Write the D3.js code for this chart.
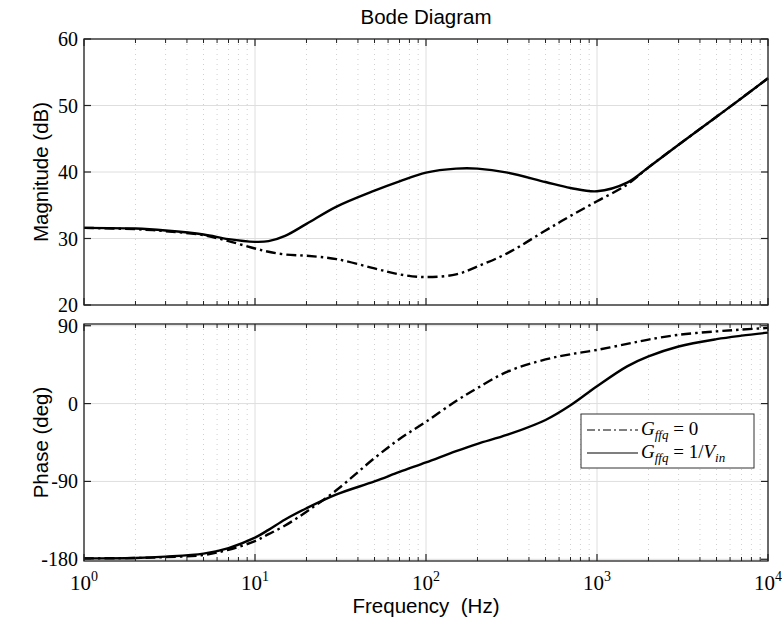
<!DOCTYPE html>
<html>
<head>
<meta charset="utf-8">
<script src="https://cdnjs.cloudflare.com/ajax/libs/d3/7.8.5/d3.min.js"></script>
<style>
  body { margin: 0; background: #fff; }
  svg { display: block; }
</style>
</head>
<body>
<div id="chart"></div>
<script>
// frequency samples (Hz)
var freq = [1, 2, 3, 5, 7, 10, 12, 15, 20, 30, 50, 70, 100, 150, 200, 300, 500, 700, 1000, 1500, 2000, 3000, 5000, 7000, 10000];
// magnitude (dB)
var magG0   = [31.6, 31.4, 31.1, 30.5, 29.6, 28.5, 28.0, 27.6, 27.4, 26.9, 25.5, 24.6, 24.2, 24.6, 25.8, 27.8, 31.2, 33.4, 35.6, 38.1, 40.7, 44.1, 48.3, 51.1, 54.1];
var magGVin = [31.6, 31.5, 31.2, 30.6, 29.9, 29.5, 29.6, 30.4, 32.2, 34.8, 37.2, 38.6, 39.9, 40.5, 40.5, 39.9, 38.5, 37.6, 37.1, 38.4, 40.7, 44.1, 48.3, 51.1, 54.1];
// phase (deg)
var phG0   = [-179, -178.5, -177.5, -175, -169, -159, -151, -141, -125, -100, -63, -41, -21, 3, 18, 37, 51, 57, 62, 69, 74, 79.5, 83.5, 85.5, 87.5];
var phGVin = [-179, -178.5, -177, -173.5, -167, -155, -146, -134, -121, -105, -90, -79, -68, -55, -46.5, -36, -19, -2, 20, 43, 54.5, 66, 74.5, 78.5, 82];

var magTicks = [20, 30, 40, 50, 60];
var phTicks = [-180, -90, 0, 90];
var decades = [1, 10, 100, 1000, 10000];

var W = 782, H = 620;
var left = 84, right = 768;
var magTop = 39, magBot = 305;
var phTop = 324, phBot = 561;

var sans = "'Liberation Sans', Arial, sans-serif";
var serif = "'Liberation Serif', serif";

var svg = d3.select("#chart").append("svg")
  .attr("width", W).attr("height", H);

var x = d3.scaleLog().domain([1, 10000]).range([left, right]);
var yMag = d3.scaleLinear().domain([20, 60]).range([magBot, magTop]);
var yPh = d3.scaleLinear().domain([-182, 92]).range([phBot, phTop]);

// minor frequencies 2..9 in each decade
var minorF = [];
decades.slice(0, 4).forEach(function(d) {
  for (var k = 2; k <= 9; k++) minorF.push(d * k);
});

function panel(y, ticks, top, bot) {
  var g = svg.append("g");
  // minor vertical grid (dotted)
  g.selectAll(".mg").data(minorF).enter().append("line")
    .attr("x1", d => x(d)).attr("x2", d => x(d))
    .attr("y1", top).attr("y2", bot)
    .attr("stroke", "#d0d0d0").attr("stroke-width", 1)
    .attr("stroke-dasharray", "1,4");
  // major vertical grid
  g.selectAll(".Mg").data(decades).enter().append("line")
    .attr("x1", d => x(d)).attr("x2", d => x(d))
    .attr("y1", top).attr("y2", bot)
    .attr("stroke", "#dedede").attr("stroke-width", 1);
  // horizontal grid
  g.selectAll(".hg").data(ticks).enter().append("line")
    .attr("x1", left).attr("x2", right)
    .attr("y1", d => y(d)).attr("y2", d => y(d))
    .attr("stroke", "#dedede").attr("stroke-width", 1);
  return g;
}

function frame(g, y, ticks, top, bot) {
  // box
  g.append("rect")
    .attr("x", left).attr("y", top)
    .attr("width", right - left).attr("height", bot - top)
    .attr("fill", "none").attr("stroke", "#222").attr("stroke-width", 1.3);
  // x ticks inward, top and bottom
  [[bot, -1], [top, 1]].forEach(function(p) {
    g.selectAll(null).data(decades).enter().append("line")
      .attr("x1", d => x(d)).attr("x2", d => x(d))
      .attr("y1", p[0]).attr("y2", p[0] + p[1] * 7)
      .attr("stroke", "#222").attr("stroke-width", 1.2);
    g.selectAll(null).data(minorF).enter().append("line")
      .attr("x1", d => x(d)).attr("x2", d => x(d))
      .attr("y1", p[0]).attr("y2", p[0] + p[1] * 4)
      .attr("stroke", "#222").attr("stroke-width", 1);
  });
  // y ticks inward, left and right
  [[left, 1], [right, -1]].forEach(function(p) {
    g.selectAll(null).data(ticks).enter().append("line")
      .attr("x1", p[0]).attr("x2", p[0] + p[1] * 7)
      .attr("y1", d => y(d)).attr("y2", d => y(d))
      .attr("stroke", "#222").attr("stroke-width", 1.2);
  });
  // y tick labels
  g.selectAll(null).data(ticks).enter().append("text")
    .attr("x", left - 6).attr("y", d => y(d))
    .attr("dy", "0.35em")
    .attr("text-anchor", "end")
    .style("font", "20px " + serif)
    .text(d => d);
}

var gMag = panel(yMag, magTicks, magTop, magBot);
var gPh = panel(yPh, phTicks, phTop, phBot);

function curve(y) {
  return d3.line()
    .x((d, i) => x(freq[i]))
    .y(d => y(d))
    .curve(d3.curveCatmullRom.alpha(0.5));
}
var lineMag = curve(yMag);
var linePh = curve(yPh);

var dashDot = "10,4,2.5,4";

gMag.append("path").attr("d", lineMag(magG0))
  .attr("fill", "none").attr("stroke", "#000").attr("stroke-width", 2.4)
  .attr("stroke-dasharray", dashDot);
gMag.append("path").attr("d", lineMag(magGVin))
  .attr("fill", "none").attr("stroke", "#000").attr("stroke-width", 2.4);

gPh.append("path").attr("d", linePh(phG0))
  .attr("fill", "none").attr("stroke", "#000").attr("stroke-width", 2.4)
  .attr("stroke-dasharray", dashDot);
gPh.append("path").attr("d", linePh(phGVin))
  .attr("fill", "none").attr("stroke", "#000").attr("stroke-width", 2.4);

frame(gMag, yMag, magTicks, magTop, magBot);
frame(gPh, yPh, phTicks, phTop, phBot);

// x tick labels 10^n
var xl = svg.append("g");
decades.forEach(function(d, i) {
  var t = xl.append("text")
    .attr("x", x(d)).attr("y", 590)
    .attr("text-anchor", "middle")
    .style("font", "21px " + serif);
  t.append("tspan").text("10");
  t.append("tspan").attr("dy", -9).style("font-size", "14px").text(i);
});

// titles
svg.append("text")
  .attr("x", 426).attr("y", 24)
  .attr("text-anchor", "middle")
  .style("font", "20.5px " + sans)
  .text("Bode Diagram");

svg.append("text")
  .attr("transform", "translate(48," + ((magTop + magBot) / 2) + ") rotate(-90)")
  .attr("text-anchor", "middle")
  .style("font", "20.5px " + sans)
  .text("Magnitude (dB)");

svg.append("text")
  .attr("transform", "translate(48," + ((phTop + phBot) / 2) + ") rotate(-90)")
  .attr("text-anchor", "middle")
  .style("font", "20.5px " + sans)
  .text("Phase (deg)");

svg.append("text")
  .attr("x", 426).attr("y", 613)
  .attr("text-anchor", "middle")
  .style("font", "20.5px " + sans)
  .style("white-space", "pre")
  .text("Frequency  (Hz)");

// legend
var legend = svg.append("g");
legend.append("rect")
  .attr("x", 581).attr("y", 414).attr("width", 173).attr("height", 54)
  .attr("fill", "#fff").attr("stroke", "#333").attr("stroke-width", 1);

var legItems = [
  { dash: "8,3,2,3", sub: "ffq", rhs: " = 0", y: 430 },
  { dash: null, sub: "ffq", rhs: " = 1/", y: 453 }
];
legItems.forEach(function(it, i) {
  var ln = legend.append("line")
    .attr("x1", 587).attr("x2", 638)
    .attr("y1", it.y).attr("y2", it.y)
    .attr("stroke", "#000").attr("stroke-width", 1.2);
  if (it.dash) ln.attr("stroke-dasharray", it.dash);
  var t = legend.append("text")
    .attr("x", 641).attr("y", it.y + 5)
    .style("font", "19px " + serif)
    .style("white-space", "pre");
  t.append("tspan").style("font-style", "italic").text("G");
  t.append("tspan").attr("dy", 4).style("font-size", "13px").style("font-style", "italic").text(it.sub);
  t.append("tspan").attr("dy", -4).text(it.rhs);
  if (i === 1) {
    t.append("tspan").style("font-style", "italic").text("V");
    t.append("tspan").attr("dy", 4).style("font-size", "13px").style("font-style", "italic").text("in");
  }
});
</script>
</body>
</html>
